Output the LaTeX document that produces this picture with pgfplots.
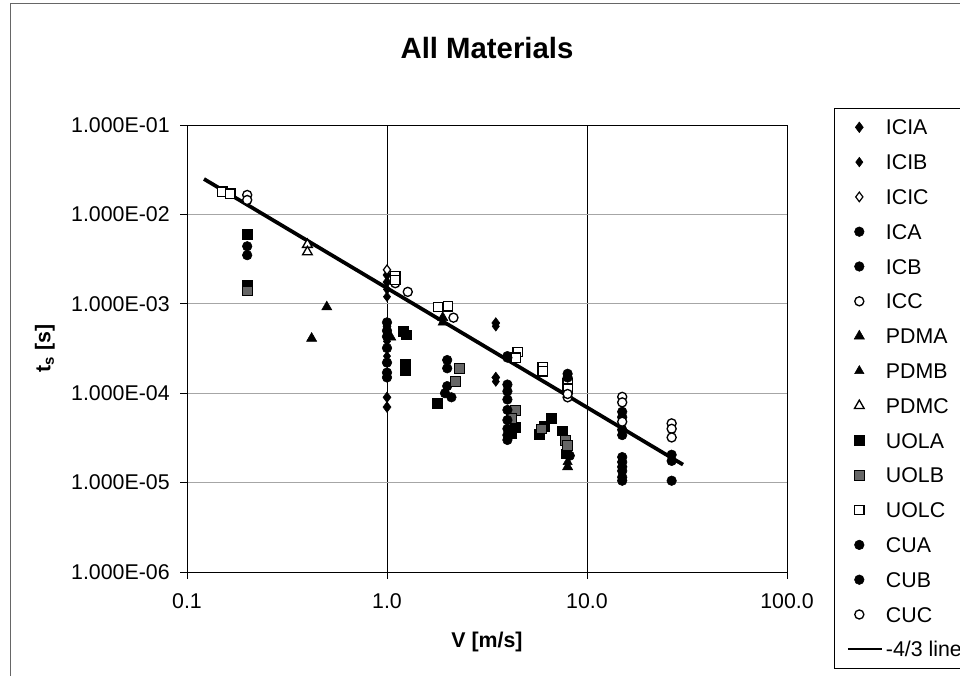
\documentclass[border=0pt]{standalone}
\usepackage{pgfplots}
\pgfplotsset{compat=1.18}
\usepackage{fontspec}
\setmainfont{Liberation Sans}
\begin{document}
\begin{tikzpicture}
\useasboundingbox (0,0) rectangle (720pt,507pt);
\draw[black!60, line width=0.6pt] (7.5pt,0) -- (7.5pt,504.5pt) -- (720pt,504.5pt);
\begin{axis}[
  at={(140.25pt,78pt)}, anchor=south west,
  scale only axis, width=450pt, height=335.25pt,
  xmode=log, ymode=log,
  xmin=0.1, xmax=100, ymin=1e-6, ymax=1e-1,
  xtick={0.1,1,10,100}, xticklabels={0.1,1.0,10.0,100.0},
  ytick={1e-6,1e-5,1e-4,1e-3,1e-2,1e-1},
  yticklabels={1.000E-06,1.000E-05,1.000E-04,1.000E-03,1.000E-02,1.000E-01},
  xminorticks=false, yminorticks=false,
  tick align=outside, tick pos=left, major tick length=5pt,
  xmajorgrids, ymajorgrids,
  x grid style={black, line width=0.6pt},
  y grid style={black!35, line width=0.6pt},
  axis line style={line width=0.7pt},
  tick style={black, line width=0.6pt},
  ticklabel style={font=\fontsize{16}{16}\selectfont},
  yticklabel style={xshift=-4.5pt},
  xticklabel style={yshift=-8pt},
  title={\textbf{All Materials}},
  title style={font=\fontsize{22}{22}\selectfont, at={(0.5,1.155)}, anchor=center},
  xlabel={\textbf{V [m/s]}},
  xlabel style={font=\fontsize{16}{16}\selectfont, at={(0.5,-0.1560)}, anchor=center},
  ylabel={\textbf{t\textsubscript{s} [s]}},
  ylabel style={font=\fontsize{16}{16}\selectfont, at={(-0.2367,0.5)}, anchor=center},
  legend style={at={(1.078,1.038)}, anchor=north west, draw=black,
    font=\fontsize{16}{16}\selectfont, inner xsep=9.5pt, inner ysep=8.5pt,
    row sep=14.6pt, column sep=2pt,
    nodes={text height=11.5pt, text depth=0pt, inner sep=0pt}},
  legend cell align=left,
  clip=false,
]
% ICIA
\addplot[only marks, mark=diamond*, mark size=4pt, mark options={draw=black, fill=black}] coordinates {
(1.0,2.1e-3) (1.0,1.75e-3) (1.0,5.6e-4) (1.0,9.0e-5) (1.0,7.0e-5) (3.5,6.1e-4) (3.5,1.5e-4)};
\addlegendentry{ICIA}
% ICIB
\addplot[only marks, mark=diamond*, mark size=3.6pt, mark options={draw=black, fill=black}] coordinates {
(1.0,1.45e-3) (1.0,1.2e-3) (1.0,3.8e-4) (1.0,2.6e-4) (3.5,5.6e-4) (3.5,1.35e-4)};
\addlegendentry{ICIB}
% ICIC
\addplot[only marks, mark=diamond*, mark size=3.6pt, mark options={draw=black, fill=white, line width=0.9pt}] coordinates {
(1.0,2.4e-3)};
\addlegendentry{ICIC}
% ICA
\addplot[only marks, mark=*, mark size=3.6pt, mark options={draw=black, fill=black}] coordinates {
(0.2,4.4e-3) (0.2,3.5e-3) (1.0,6.2e-4) (1.0,5.0e-4) (1.0,4.3e-4) (2.0,2.35e-4) (2.0,1.9e-4) (4.0,2.6e-4) (4.0,1.25e-4)};
\addlegendentry{ICA}
% ICB
\addplot[only marks, mark=*, mark size=3.6pt, mark options={draw=black, fill=black}] coordinates {
(0.2,1.5e-3) (1.0,3.2e-4) (1.0,2.2e-4) (1.0,1.7e-4) (1.0,1.5e-4) (2.0,1.2e-4) (1.95,1.0e-4) (2.1,9.0e-5) (4.0,1.05e-4) (4.0,8.5e-5)};
\addlegendentry{ICB}
% ICC
\addplot[only marks, mark=*, mark size=3.4pt, mark options={draw=black, fill=white, line width=1pt}] coordinates {
(0.2,1.65e-2) (0.2,1.45e-2) (1.1,1.7e-3) (1.27,1.36e-3) (2.15,7.0e-4)};
\addlegendentry{ICC}
% PDMA
\addplot[only marks, mark=triangle*, mark size=4.4pt, mark options={draw=black, fill=black}] coordinates {
(0.42,4.1e-4) (0.5,9.2e-4) (1.9,7.0e-4) (8.0,1.5e-5)};
\addlegendentry{PDMA}
% PDMB
\addplot[only marks, mark=triangle*, mark size=4pt, mark options={draw=black, fill=black}] coordinates {
(1.05,4.2e-4) (1.9,6.2e-4) (8.0,1.7e-5)};
\addlegendentry{PDMB}
% PDMC
\addplot[only marks, mark=triangle*, mark size=4.2pt, mark options={draw=black, fill=white, line width=1pt}] coordinates {
(0.4,4.6e-3) (0.4,3.8e-3)};
\addlegendentry{PDMC}
% UOLA
\addplot[only marks, mark=square*, mark size=3.7pt, mark options={draw=black, fill=black}] coordinates {
(0.2,6.0e-3) (0.2,1.6e-3) (1.2,4.9e-4) (1.25,4.5e-4) (1.23,2.1e-4) (1.23,1.8e-4) (1.78,7.8e-5) (4.4,4.2e-5) (4.2,3.6e-5) (5.8,3.5e-5) (6.1,4.3e-5) (6.6,5.2e-5) (7.5,3.8e-5) (7.9,2.1e-5)};
\addlegendentry{UOLA}
% UOLB
\addplot[only marks, mark=square*, mark size=3.7pt, mark options={draw=black, fill=black!60}] coordinates {
(0.2,1.4e-3) (2.3,1.9e-4) (2.2,1.35e-4) (4.4,6.5e-5) (4.2,5.3e-5) (5.9,4.0e-5) (7.8,3.0e-5) (8.0,2.6e-5)};
\addlegendentry{UOLB}
% UOLC
\addplot[only marks, mark=square*, mark size=3.5pt, mark options={draw=black, fill=white, line width=1pt}] coordinates {
(0.15,1.8e-2) (0.165,1.7e-2) (1.1,2.05e-3) (1.1,1.85e-3) (1.8,9.2e-4) (2.02,9.4e-4) (4.5,2.9e-4) (4.4,2.5e-4) (6.0,1.95e-4) (6.0,1.75e-4) (8.0,1.3e-4) (8.0,1.12e-4)};
\addlegendentry{UOLC}
% CUA
\addplot[only marks, mark=*, mark size=3.6pt, mark options={draw=black, fill=black}] coordinates {
(4.0,2.5e-4) (8.0,1.65e-4) (8.0,1.5e-4) (15.0,6.2e-5) (15.0,5.4e-5) (15.0,3.9e-5) (15.0,3.4e-5) (26.5,2.05e-5) (26.5,1.75e-5)};
\addlegendentry{CUA}
% CUB
\addplot[only marks, mark=*, mark size=3.6pt, mark options={draw=black, fill=black}] coordinates {
(4.0,6.5e-5) (4.0,5.0e-5) (4.0,4.0e-5) (4.0,3.4e-5) (4.0,3.0e-5) (8.2,2.0e-5) (15.0,1.93e-5) (15.0,1.7e-5) (15.0,1.5e-5) (15.0,1.35e-5) (15.0,1.15e-5) (15.0,1.05e-5) (26.5,1.05e-5)};
\addlegendentry{CUB}
% CUC
\addplot[only marks, mark=*, mark size=3.4pt, mark options={draw=black, fill=white, line width=1pt}] coordinates {
(8.0,9.0e-5) (8.0,9.8e-5) (15.0,9.1e-5) (15.0,7.9e-5) (15.0,4.8e-5) (26.5,4.6e-5) (26.5,4.0e-5) (26.5,3.2e-5)};
\addlegendentry{CUC}
% -4/3 line
\addplot[black, line width=2.8pt, no markers,
  legend image code/.code={\draw[black, line width=1.8pt] (0cm,0cm) -- (0.9cm,0cm);}] coordinates {
(0.1216,2.49e-2) (30.2,1.59e-5)};
\addlegendentry{-4/3 line}
\end{axis}
\end{tikzpicture}
\end{document}
